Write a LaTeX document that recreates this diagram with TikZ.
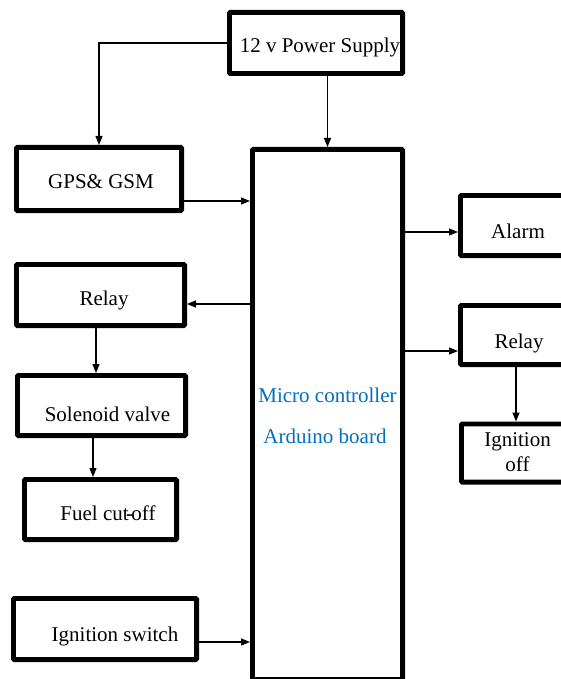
\documentclass[tikz,border=0pt]{standalone}
\usepackage{fontspec}
\setmainfont{Liberation Serif}
\usetikzlibrary{arrows.meta}
\definecolor{mcblue}{RGB}{0,112,192}
\tikzset{
  blk/.style={draw=black, line width=4.8pt, rounded corners=1pt, inner sep=0pt, fill=white},
  lbl/.style={anchor=base, inner sep=0pt, font=\fontsize{21}{24}\selectfont},
  conn/.style={line width=1.2pt, -{Triangle[length=9pt,width=7pt]}},
  wire/.style={line width=1.2pt}
}
\newcommand{\blkbox}[5]{\node[blk, minimum width=#4pt-4.8pt, minimum height=#5pt-4.8pt] (#1) at (#2,#3) {};}
\begin{document}
\begin{tikzpicture}[x=1pt,y=-1pt]
\useasboundingbox (0,0) rectangle (561,679);
\clip (0,0) rectangle (561,679);
% boxes
\blkbox{pow}{316}{43}{178}{66}
\blkbox{gps}{99}{179}{170}{68}
\blkbox{mc}{327.5}{414.5}{155}{535}
\blkbox{alarm}{516.5}{225.5}{117}{65}
\blkbox{relayR}{516.5}{335}{117}{64}
\blkbox{ignoff}{517}{453}{116}{63}
\blkbox{relayL}{100.5}{295}{173}{66}
\blkbox{sol}{101.5}{405.5}{173}{65}
\blkbox{fuel}{100.5}{509.5}{157}{65}
\blkbox{ign}{105}{629}{188}{66}
% texts
\node[lbl] (powT) at (320,53) {12 v Power Supply};
\node[lbl] (gpsT) at (101,188) {GPS\& GSM};
\node[lbl] (relayLT) at (104,305) {Relay};
\node[lbl] (solT) at (107.5,421) {Solenoid valve};
\node[lbl] (fuelT) at (108,520) {Fuel cut\kern-0.12em-\kern-0.08em off};
\node[lbl] (ignT) at (115,641) {Ignition switch};
\node[lbl, text=mcblue] (mcT1) at (327.5,402) {Micro controller};
\node[lbl, text=mcblue] (mcT2) at (325,443) {Arduino board};
\node[lbl] (alarmT) at (518,238) {Alarm};
\node[lbl] (relayRT) at (519,348) {Relay};
\node[lbl] (ignoffT1) at (517.5,446) {Ignition};
\node[lbl] (ignoffT2) at (517.5,471) {off};
% connectors
\draw[conn] (pow.west) -| (gps.north);
\draw[conn] (pow.south -| mc.north) -- (mc.north);
\draw[conn] (gps.east |- 0,201) -- (mc.west |- 0,201);
\draw[conn] (mc.east |- 0,232) -- (alarm.west |- 0,232);
\draw[conn] (mc.west |- 0,304) -- (relayL.east |- 0,304);
\draw[conn] (mc.east |- 0,351) -- (relayR.west |- 0,351);
\draw[conn] (relayR.south -| 516,0) -- (ignoff.north -| 516,0);
\draw[conn] (relayL.south -| 96,0) -- (sol.north -| 96,0);
\draw[conn] (sol.south -| 93,0) -- (fuel.north -| 93,0);
\draw[conn] (ign.east |- 0,642) -- (mc.west |- 0,642);
\end{tikzpicture}
\end{document}
